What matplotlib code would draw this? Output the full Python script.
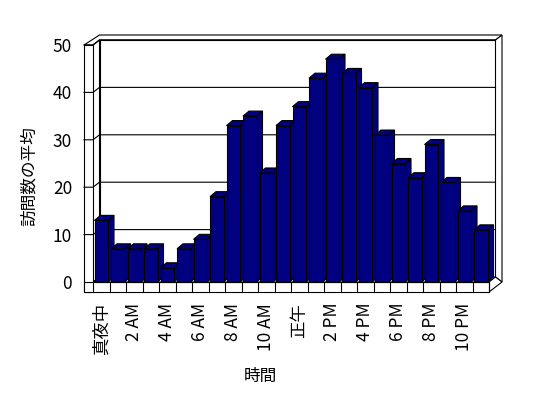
import matplotlib
matplotlib.use('Agg')
import matplotlib.pyplot as plt
from matplotlib.patches import Polygon, Rectangle

plt.rcParams['font.family'] = ['Noto Sans CJK JP', 'DejaVu Sans']

# data
visits = [13, 7, 7, 7, 3, 7, 9, 18, 33, 35, 23, 33,
          37, 43, 47, 44, 41, 31, 25, 22, 29, 21, 15, 11]
tick_labels = ['真夜中', '2 AM', '4 AM', '6 AM', '8 AM', '10 AM',
               '正午', '2 PM', '4 PM', '6 PM', '8 PM', '10 PM']
y_ticks = [0, 10, 20, 30, 40, 50]
x_title = '時間'
y_title = '訪問数の平均'

W, H = 548, 398
fig = plt.figure(figsize=(W / 100, H / 100), dpi=100)
ax = fig.add_axes([93 / W, 116 / H, 396 / W, 237 / H])
n = len(visits)
X0, X1 = -0.5, n - 0.5
YMAX = y_ticks[-1]
ax.set_xlim(X0, X1)
ax.set_ylim(0, YMAX)

# pixel -> data unit helpers (for the pseudo 3d depth)
SX = 396 / n
SY = 237 / YMAX
def px(d):
    return d / SX
def py(d):
    return d / SY

DX, DY = px(6.5), py(5)     # wall depth
LW = px(9)                  # left wall thickness
FT = py(10)                 # floor thickness
BDX, BDY = px(6), py(5)     # bar depth
lw = 0.8
navy = '#000080'

def poly(pts, z, fc='white'):
    ax.add_patch(Polygon(pts, closed=True, facecolor=fc, edgecolor='black',
                         lw=lw, zorder=z, clip_on=False))

# back wall
poly([(X0 + DX, DY), (X1 + DX, DY), (X1 + DX, YMAX + DY), (X0 + DX, YMAX + DY)], 1)
# wall top thickness
poly([(X0 - LW, YMAX), (X0, YMAX), (X0 + DX, YMAX + DY), (X1 + DX, YMAX + DY),
      (X1 + 2 * DX, YMAX + 2 * DY), (X0 + DX, YMAX + 2 * DY)], 1)
# right wall thickness
poly([(X1 + DX, DY), (X1 + DX, YMAX + DY), (X1 + 2 * DX, YMAX + 2 * DY),
      (X1 + 2 * DX, -FT + 2 * DY)], 1)
# left wall
poly([(X0, 0), (X0, YMAX), (X0 + DX, YMAX + DY), (X0 + DX, DY)], 1)
ax.add_patch(Rectangle((X0 - LW, -FT), LW, YMAX + FT, facecolor='white',
                       edgecolor='black', lw=lw, zorder=1, clip_on=False))

# gridlines
for v in y_ticks[1:]:
    ax.plot([X0 - LW, X0, X0 + DX, X1 + DX], [v, v, v + DY, v + DY],
            color='black', lw=lw, zorder=1.5, clip_on=False)

# floor
poly([(X0, 0), (X1, 0), (X1 + DX, DY), (X0 + DX, DY)], 2)
poly([(X1, 0), (X1, -FT), (X1 + 2 * DX, -FT + 2 * DY), (X1 + DX, DY)], 2)
ax.add_patch(Rectangle((X0 - LW, -FT), X1 - X0 + LW, FT, facecolor='white',
                       edgecolor='black', lw=lw, zorder=2, clip_on=False))
for k in range(n + 1):
    ax.plot([X0 + k, X0 + k], [-FT, 0], color='black', lw=lw, zorder=2.1,
            clip_on=False)

# bars
bw = 13.5 / SX
xs = list(range(n))
bars = ax.bar(xs, visits, width=bw, color=navy, edgecolor='black', lw=lw,
              clip_on=False)
for i, (rect, h) in enumerate(zip(bars, visits)):
    l = i - bw / 2
    r = i + bw / 2
    z = 3 + i * 0.01
    poly([(r, 0), (r, h), (r + BDX, h + BDY), (r + BDX, BDY)], z, navy)
    poly([(l, h), (r, h), (r + BDX, h + BDY), (l + BDX, h + BDY)], z, navy)
    rect.set_zorder(z + 0.005)

# axes text
for s in ax.spines.values():
    s.set_visible(False)
ax.patch.set_visible(False)
ax.set_xticks(xs[::2])
ax.set_xticklabels(tick_labels, rotation=90, fontsize=12.5)
ax.set_yticks(y_ticks)
ax.set_yticklabels([str(v) for v in y_ticks], fontsize=12.5)
ax.tick_params(length=0, pad=15)

fig.text(260 / W, 1 - 376 / H, x_title, ha='center', va='center', fontsize=12)
fig.text(29 / W, 1 - 176 / H, y_title, ha='center', va='center', rotation=90,
         fontsize=12)

fig.savefig('out.png', dpi=100)
